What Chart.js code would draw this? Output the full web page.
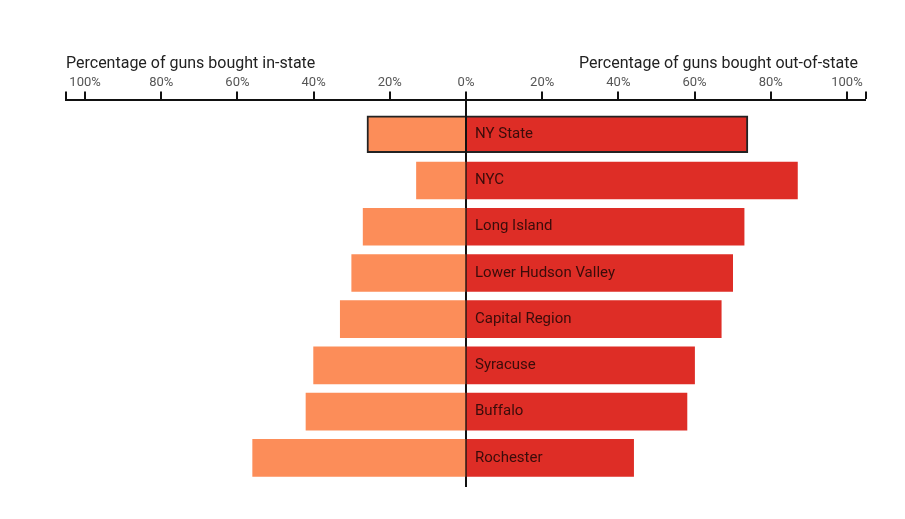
<!DOCTYPE html>
<html>
<head>
<meta charset="utf-8">
<script src="https://cdn.jsdelivr.net/npm/chart.js@4.4.0/dist/chart.umd.min.js"></script>
<style>
  html, body { margin: 0; background: #fff; }
  #wrap { width: 905px; height: 519px; }
</style>
</head>
<body>
<div id="wrap"><canvas id="chart"></canvas></div>
<script>
const regions = ["NY State", "NYC", "Long Island", "Lower Hudson Valley", "Capital Region", "Syracuse", "Buffalo", "Rochester"];
const inState = [26, 13, 27, 30, 33, 40, 42, 56];
const outState = [74, 87, 73, 70, 67, 60, 58, 44];
const tickValues = [-100, -80, -60, -40, -20, 0, 20, 40, 60, 80, 100];
const axisEnds = [-105, 105];
const leftTitle = "Percentage of guns bought in-state";
const rightTitle = "Percentage of guns bought out-of-state";

const font = "Roboto, 'Open Sans', sans-serif";

const labelsPlugin = {
  id: 'labels',
  afterDatasetsDraw(chart) {
    const c = chart.ctx;
    const x0 = chart.scales.x.getPixelForValue(0);
    const meta = chart.getDatasetMeta(1);
    c.save();
    c.font = "15px " + font;
    c.fillStyle = "#3a0c0a";
    c.textBaseline = "middle";
    c.textAlign = "left";
    meta.data.forEach((bar, i) => {
      c.fillText(regions[i], x0 + 9, bar.y);
    });
    c.restore();
  },
  afterDraw(chart) {
    const c = chart.ctx;
    const xs = chart.scales.x;
    c.save();
    c.font = "16px " + font;
    c.fillStyle = "#222";
    c.textBaseline = "middle";
    c.textAlign = "left";
    c.fillText(leftTitle, xs.getPixelForValue(axisEnds[0]), 64);
    c.textAlign = "right";
    c.fillText(rightTitle, xs.getPixelForValue(axisEnds[1]) - 8, 64);
    c.restore();
  }
};

new Chart(document.getElementById("chart"), {
  type: 'bar',
  data: {
    datasets: [{
      label: 'In-state',
      data: regions.map((r, i) => ({ x: -inState[i], y: i })),
      backgroundColor: '#fc8d59',
      borderColor: '#222',
      borderWidth: ctx => ctx.dataIndex === 0 ? 2 : 0,
      grouped: false,
      barThickness: 37
    }, {
      label: 'Out-of-state',
      data: regions.map((r, i) => ({ x: outState[i], y: i })),
      backgroundColor: '#de2d26',
      borderColor: '#222',
      borderWidth: ctx => ctx.dataIndex === 0 ? 2 : 0,
      grouped: false,
      barThickness: 37
    }]
  },
  options: {
    indexAxis: 'y',
    responsive: true,
    maintainAspectRatio: false,
    animation: false,
    layout: { padding: { left: 66, right: 39, top: 74, bottom: 32 } },
    plugins: {
      legend: { display: false },
      tooltip: { enabled: false }
    },
    scales: {
      x: {
        position: 'top',
        min: axisEnds[0],
        max: axisEnds[1],
        z: 1,
        afterBuildTicks: scale => {
          scale.ticks = [axisEnds[0], ...tickValues, axisEnds[1]].map(v => ({ value: v }));
        },
        ticks: {
          autoSkip: false,
          maxRotation: 0,
          padding: 1,
          color: '#555',
          font: { family: font, size: 13 },
          callback: v => axisEnds.includes(v) ? '' : Math.abs(v) + '%'
        },
        grid: {
          drawOnChartArea: true,
          color: ctx => ctx.tick && ctx.tick.value === 0 ? '#111' : 'rgba(0,0,0,0)',
          lineWidth: ctx => ctx.tick && ctx.tick.value === 0 ? 2 : 0,
          tickLength: 8,
          tickWidth: 2,
          tickColor: '#111'
        },
        border: { display: true, color: '#111', width: 2 }
      },
      y: {
        type: 'linear',
        display: false,
        reverse: true,
        offset: false,
        grid: { offset: false },
        min: -0.75,
        max: 7.63
      }
    }
  },
  plugins: [labelsPlugin]
});
</script>
</body>
</html>
